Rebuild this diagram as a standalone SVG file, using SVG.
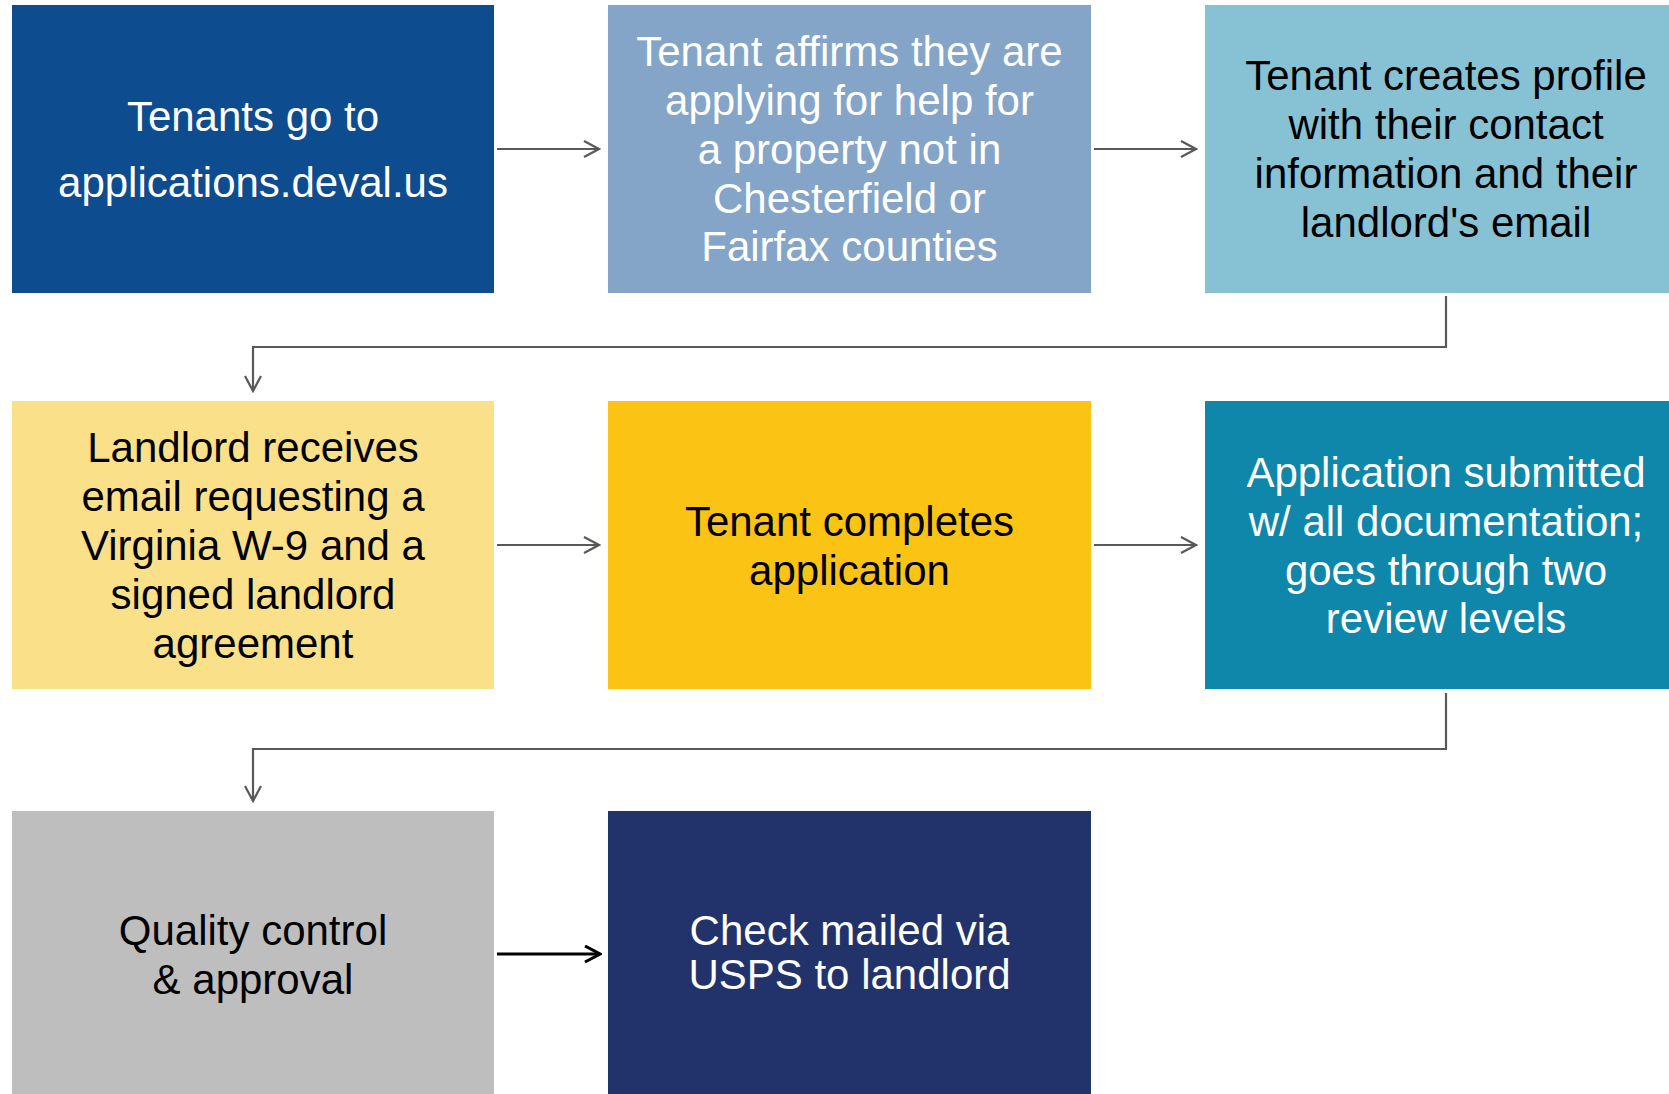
<svg xmlns="http://www.w3.org/2000/svg" width="1669" height="1094" viewBox="0 0 1669 1094">
<style>
text{font-family:"Liberation Sans",Arial,sans-serif;font-size:42px;text-anchor:middle}
.w{fill:#ffffff}.k{fill:#000000}
.c{fill:none;stroke:#595959;stroke-width:2.2}
.cb{fill:none;stroke:#000000;stroke-width:3}
</style>
<defs>
<marker id="ah" markerWidth="18" markerHeight="20" refX="16" refY="9" orient="auto" markerUnits="userSpaceOnUse">
<path d="M1,1 L16,9 L1,17" fill="none" stroke="#595959" stroke-width="2.2"/>
</marker>
<marker id="ahb" markerWidth="18" markerHeight="20" refX="16" refY="9" orient="auto" markerUnits="userSpaceOnUse">
<path d="M1,1 L16,9 L1,17" fill="none" stroke="#000000" stroke-width="3"/>
</marker>
</defs>
<rect width="1669" height="1094" fill="#ffffff"/>
<g id="n1"><rect x="12" y="5" width="482" height="288" fill="#0D4C8F"/>
<text class="w" x="253" y="131">Tenants go to</text><text class="w" x="253" y="197">applications.deval.us</text></g>
<g id="n2"><rect x="608" y="5" width="483" height="288" fill="#84A5C8"/>
<text class="w" x="849.5" y="66">Tenant affirms they are</text>
<text class="w" x="849.5" y="115">applying for help for</text>
<text class="w" x="849.5" y="164">a property not in</text>
<text class="w" x="849.5" y="213">Chesterfield or</text>
<text class="w" x="849.5" y="261">Fairfax counties</text></g>
<g id="n3"><rect x="1205" y="5" width="482" height="288" fill="#87C1D4"/>
<text class="k" x="1446" y="90">Tenant creates profile</text>
<text class="k" x="1446" y="139">with their contact</text>
<text class="k" x="1446" y="188">information and their</text>
<text class="k" x="1446" y="237">landlord's email</text></g>
<g id="n4"><rect x="12" y="401" width="482" height="288" fill="#FBE08A"/>
<text class="k" x="253" y="462">Landlord receives</text>
<text class="k" x="253" y="511">email requesting a</text>
<text class="k" x="253" y="560">Virginia W-9 and a</text>
<text class="k" x="253" y="609">signed landlord</text>
<text class="k" x="253" y="658">agreement</text></g>
<g id="n5"><rect x="608" y="401" width="483" height="288" fill="#FBC313"/>
<text class="k" x="849.5" y="536">Tenant completes</text>
<text class="k" x="849.5" y="585">application</text></g>
<g id="n6"><rect x="1205" y="401" width="482" height="288" fill="#0E87AA"/>
<text class="w" x="1446" y="487">Application submitted</text>
<text class="w" x="1446" y="536">w/ all documentation;</text>
<text class="w" x="1446" y="585">goes through two</text>
<text class="w" x="1446" y="633">review levels</text></g>
<g id="n7"><rect x="12" y="811" width="482" height="300" fill="#BEBEBE"/>
<text class="k" x="253" y="945">Quality control</text>
<text class="k" x="253" y="994">&amp; approval</text></g>
<g id="n8"><rect x="608" y="811" width="483" height="300" fill="#22336B"/>
<text class="w" x="849.5" y="945">Check mailed via</text>
<text class="w" x="849.5" y="989">USPS to landlord</text></g>
<g id="connectors">
<path class="c" d="M497,149 H599" marker-end="url(#ah)"/>
<path class="c" d="M1094,149 H1196" marker-end="url(#ah)"/>
<path class="c" d="M1446,296 V347 H253 V391" marker-end="url(#ah)"/>
<path class="c" d="M497,545 H599" marker-end="url(#ah)"/>
<path class="c" d="M1094,545 H1196" marker-end="url(#ah)"/>
<path class="c" d="M1446,693 V749 H253 V801" marker-end="url(#ah)"/>
<path class="cb" d="M497,954 H600" marker-end="url(#ahb)"/>
</g>
</svg>
